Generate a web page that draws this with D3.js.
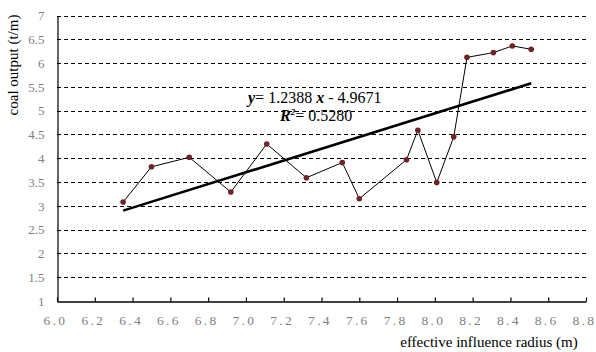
<!DOCTYPE html>
<html>
<head>
<meta charset="utf-8">
<script src="https://cdn.jsdelivr.net/npm/d3@7/dist/d3.min.js"></script>
<style>
  html, body { margin: 0; padding: 0; background: #fff; }
  svg { display: block; }
</style>
</head>
<body>
<svg id="chart" width="596" height="352"></svg>
<script>
// Measured samples: effective influence radius (m) vs coal output (t/m)
const radius = [6.35, 6.50, 6.70, 6.92, 7.11, 7.32, 7.51, 7.60, 7.85, 7.91, 8.01, 8.10, 8.17, 8.31, 8.41, 8.51];
const output = [3.08, 3.82, 4.02, 3.29, 4.30, 3.59, 3.91, 3.15, 3.97, 4.59, 3.49, 4.45, 6.12, 6.22, 6.36, 6.29];

// Linear fit reported on the chart
const slope = 1.2388;
const intercept = -4.9671;
const r2 = "0.5280";

const xTicks = [6.0, 6.2, 6.4, 6.6, 6.8, 7.0, 7.2, 7.4, 7.6, 7.8, 8.0, 8.2, 8.4, 8.6, 8.8];
const yTicks = [1, 1.5, 2, 2.5, 3, 3.5, 4, 4.5, 5, 5.5, 6, 6.5, 7];

const svg = d3.select("#chart");
const plotLeft = 57, plotRight = 586, plotTop = 15.5, plotBottom = 301;

const x = d3.scaleLinear().domain([6.0, 8.8]).range([plotLeft, plotRight]);
const y = d3.scaleLinear().domain([1, 7]).range([plotBottom, plotTop]);

// Dashed horizontal gridlines
svg.append("g")
  .selectAll("line")
  .data(yTicks.filter(d => d > 1))
  .join("line")
  .attr("x1", plotLeft).attr("x2", plotRight + 1)
  .attr("y1", d => Math.round(y(d)) + 0.5).attr("y2", d => Math.round(y(d)) + 0.5)
  .attr("stroke", "#000").attr("stroke-width", 1)
  .attr("stroke-dasharray", "4,3");

// Y axis
const yAxis = svg.append("g")
  .attr("transform", `translate(${plotLeft + 0.5},0)`)
  .call(d3.axisLeft(y).tickValues(yTicks).tickSize(0).tickPadding(13).tickFormat(d3.format("")));
yAxis.select(".domain").attr("stroke", "#000").attr("stroke-width", 1.2);
yAxis.selectAll("text")
  .attr("fill", "#7f7f7f")
  .style("font-family", "'Liberation Serif', 'Times New Roman', serif")
  .style("font-size", "13px");

// X axis with inward ticks
const xAxis = svg.append("g")
  .attr("transform", `translate(0,${Math.round(plotBottom) + 0.5})`)
  .call(d3.axisBottom(x).tickValues(xTicks).tickSizeInner(-4).tickSizeOuter(0).tickPadding(14).tickFormat(d3.format(".1f")));
xAxis.select(".domain").attr("stroke", "#000").attr("stroke-width", 1.5);
xAxis.selectAll(".tick line").attr("stroke", "#000").attr("stroke-width", 1.2);
xAxis.selectAll("text")
  .attr("fill", "#7f7f7f")
  .attr("dx", -2)
  .style("font-family", "'Liberation Serif', 'Times New Roman', serif")
  .style("font-size", "13.5px")
  .style("letter-spacing", "2.3px");

// Trend line across the data range
const xMin = d3.min(radius), xMax = d3.max(radius);
svg.append("line")
  .attr("x1", x(xMin)).attr("y1", y(slope * xMin + intercept))
  .attr("x2", x(xMax)).attr("y2", y(slope * xMax + intercept))
  .attr("stroke", "#000").attr("stroke-width", 2.6);

// Observed series
const pts = radius.map((r, i) => [r, output[i]]);
svg.append("path")
  .datum(pts)
  .attr("fill", "none")
  .attr("stroke", "#000")
  .attr("stroke-width", 1)
  .attr("d", d3.line().x(d => x(d[0])).y(d => y(d[1])));

svg.append("g")
  .selectAll("circle")
  .data(pts)
  .join("circle")
  .attr("cx", d => x(d[0])).attr("cy", d => y(d[1]))
  .attr("r", 2.8)
  .attr("fill", "#6e2424");

// Regression equation
const eq = svg.append("g")
  .style("font-family", "'Liberation Serif', 'Times New Roman', serif")
  .style("font-size", "16px")
  .attr("fill", "#000");

const line1 = eq.append("text").attr("x", 248).attr("y", 103);
line1.append("tspan").text("y").style("font-style", "italic").style("font-weight", "bold");
line1.append("tspan").text("= " + slope.toFixed(4) + " ");
line1.append("tspan").text("x").style("font-style", "italic").style("font-weight", "bold");
line1.append("tspan").text(" - " + Math.abs(intercept).toFixed(4));

const line2 = eq.append("text").attr("x", 280).attr("y", 121);
line2.append("tspan").text("R").style("font-style", "italic").style("font-weight", "bold");
line2.append("tspan").text("2").attr("dy", -6).style("font-size", "9px").style("font-style", "italic").style("font-weight", "bold");
line2.append("tspan").text("= " + r2).attr("dy", 6);

// Axis titles
svg.append("text")
  .attr("transform", "translate(18,65) rotate(-90)")
  .attr("text-anchor", "middle")
  .style("font-family", "'Liberation Serif', 'Times New Roman', serif")
  .style("font-size", "15px")
  .attr("fill", "#000")
  .text("coal output (t/m)");

svg.append("text")
  .attr("x", 489).attr("y", 347)
  .attr("text-anchor", "middle")
  .style("font-family", "'Liberation Serif', 'Times New Roman', serif")
  .style("font-size", "15px")
  .attr("fill", "#000")
  .text("effective influence radius (m)");
</script>
</body>
</html>
